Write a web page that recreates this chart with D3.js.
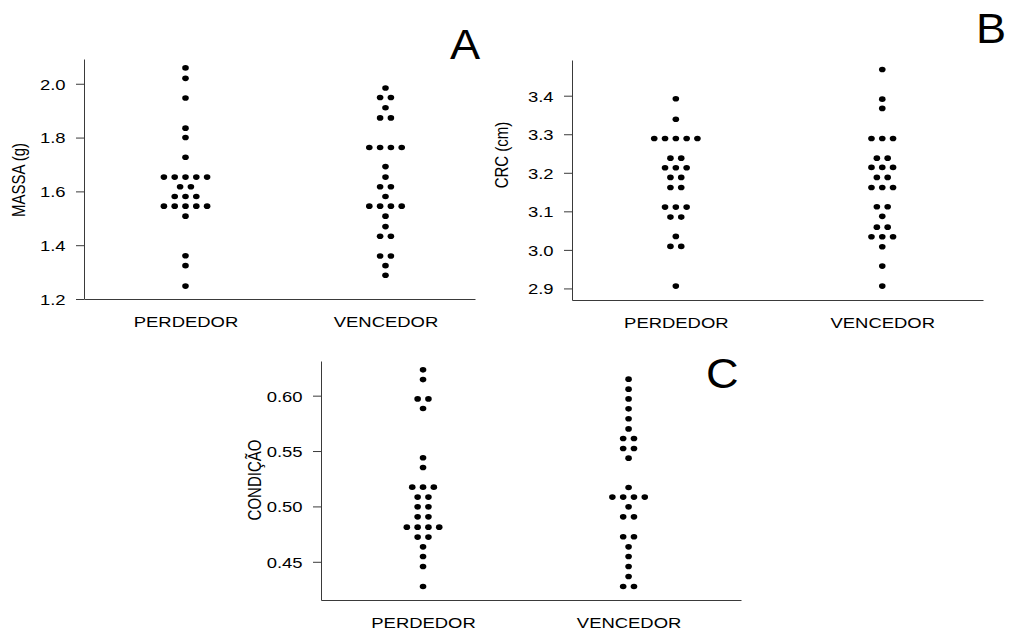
<!DOCTYPE html>
<html>
<head>
<meta charset="utf-8">
<script src="https://cdn.jsdelivr.net/npm/d3@7"></script>
<style>
  body { margin: 0; background: #fff; }
  svg { display: block; }
  text { font-family: "Liberation Sans", Arial, sans-serif; fill: #000; }
</style>
</head>
<body>
<script>
const groups = ["PERDEDOR", "VENCEDOR"];

// A - MASSA (g)
const massaPerdedor = [2.059, 2.020, 1.947, 1.835, 1.800, 1.727,
  1.653, 1.653, 1.653, 1.653, 1.653, 1.617, 1.617, 1.581, 1.581, 1.581,
  1.545, 1.545, 1.545, 1.545, 1.545, 1.508, 1.361, 1.324, 1.248];
const massaVencedor = [1.984, 1.949, 1.949, 1.911, 1.873, 1.873,
  1.763, 1.763, 1.763, 1.763, 1.692, 1.653, 1.617, 1.617, 1.581,
  1.545, 1.545, 1.545, 1.545, 1.508, 1.469, 1.433, 1.433, 1.360, 1.360, 1.324, 1.288];
const massaTicks = [1.2, 1.4, 1.6, 1.8, 2.0];

// B - CRC (cm)
const crcPerdedor = [3.392, 3.339, 3.289, 3.289, 3.289, 3.289, 3.289,
  3.238, 3.238, 3.213, 3.213, 3.213, 3.188, 3.188, 3.162, 3.162,
  3.111, 3.111, 3.111, 3.085, 3.085, 3.035, 3.009, 3.009, 2.906];
const crcVencedor = [3.468, 3.391, 3.367, 3.289, 3.289, 3.289,
  3.238, 3.238, 3.214, 3.214, 3.214, 3.188, 3.188, 3.162, 3.162, 3.162,
  3.112, 3.112, 3.087, 3.059, 3.059, 3.034, 3.034, 3.034, 3.008, 2.958, 2.906];
const crcTicks = [2.9, 3.0, 3.1, 3.2, 3.3, 3.4];

// C - CONDIÇÃO
const condPerdedor = [0.6233, 0.6145, 0.5971, 0.5971, 0.5884, 0.5439, 0.5351,
  0.5174, 0.5174, 0.5174, 0.5084, 0.5084, 0.4996, 0.4996, 0.4906, 0.4906,
  0.4813, 0.4813, 0.4813, 0.4813, 0.4723, 0.4723, 0.4635, 0.4548, 0.4458, 0.4277];
const condVencedor = [0.6149, 0.6059, 0.5971, 0.5881, 0.5791, 0.5700,
  0.5613, 0.5613, 0.5523, 0.5523, 0.5436, 0.5171,
  0.5084, 0.5084, 0.5084, 0.5084, 0.4996, 0.4906, 0.4906,
  0.4726, 0.4726, 0.4635, 0.4548, 0.4458, 0.4367, 0.4277, 0.4277];
const condTicks = [0.45, 0.50, 0.55, 0.60];

const width = 1009, height = 631;
const SX = 1.23;      // the original picture is stretched sideways
const dotStep = 10.8; // horizontal distance between stacked dots
const axisColor = "#3a3a3a";

const svg = d3.select("body").append("svg")
  .attr("width", width)
  .attr("height", height);

const panels = [
  {series: [massaPerdedor, massaVencedor], ticks: massaTicks, fmt: ".1f",
   yDomain: [1.2, 2.092], xDomain: [0.4925, 2.4475],
   left: 84, right: 475, top: 59, bottom: 299,
   title: "MASSA (g)", titleX: 19, titleY: 180,
   letter: "A", letterX: 450, letterY: 59},
  {series: [crcPerdedor, crcVencedor], ticks: crcTicks, fmt: ".1f",
   yDomain: [2.870, 3.4926], xDomain: [0.497, 2.488],
   left: 572, right: 983, top: 60, bottom: 300,
   title: "CRC (cm)", titleX: 502, titleY: 155,
   letter: "B", letterX: 976, letterY: 43},
  {series: [condPerdedor, condVencedor], ticks: condTicks, fmt: ".2f",
   yDomain: [0.4155, 0.6313], xDomain: [0.5036, 2.547],
   left: 321, right: 741, top: 361, bottom: 600,
   title: "CONDIÇÃO", titleX: 255, titleY: 480,
   letter: "C", letterX: 706, letterY: 388}
];

panels.forEach(drawPanel);

function drawPanel(p) {
  const y = d3.scaleLinear().domain(p.yDomain).range([p.bottom, p.top]);
  const x = d3.scaleLinear().domain(p.xDomain).range([p.left, p.right]);
  const g = svg.append("g");

  // y axis
  const ya = g.append("g")
    .attr("transform", `translate(${p.left},0)`)
    .call(d3.axisLeft(y).tickValues(p.ticks).tickFormat(d3.format(p.fmt))
      .tickSize(8).tickSizeOuter(0));
  ya.selectAll("path, line").attr("stroke", axisColor);
  ya.selectAll("text")
    .attr("x", -18.5 / SX)
    .attr("dy", "0.36em")
    .attr("transform", `scale(${SX},1)`)
    .style("font-size", "15px")
    .style("font-family", "Liberation Sans, Arial, sans-serif")
    .attr("fill", "#000");

  // x axis
  const xa = g.append("g")
    .attr("transform", `translate(0,${p.bottom})`)
    .call(d3.axisBottom(x).tickValues([1, 2]).tickFormat((d, i) => groups[i])
      .tickSize(0).tickSizeOuter(0).tickPadding(17));
  xa.select(".domain").attr("stroke", axisColor);
  xa.selectAll("text")
    .attr("transform", `scale(${SX},1)`)
    .style("font-size", "15px")
    .style("font-family", "Liberation Sans, Arial, sans-serif")
    .attr("fill", "#000");

  // stacked dots
  p.series.forEach((vals, gi) => {
    const rows = d3.groups(vals, v => v);
    const pts = [];
    rows.forEach(([v, arr]) => {
      arr.forEach((_, k) => pts.push({v, off: (k - (arr.length - 1) / 2) * dotStep}));
    });
    g.append("g").selectAll("ellipse")
      .data(pts)
      .join("ellipse")
      .attr("cx", d => x(gi + 1) + d.off)
      .attr("cy", d => y(d.v))
      .attr("rx", 3.3)
      .attr("ry", 2.8)
      .attr("fill", "#000");
  });

  // axis title
  g.append("text")
    .attr("transform", `translate(${p.titleX},${p.titleY}) scale(${SX},1) rotate(-90)`)
    .attr("text-anchor", "middle")
    .attr("dominant-baseline", "central")
    .style("font-size", "15px")
    .text(p.title);

  // panel letter
  g.append("text")
    .attr("transform", `translate(${p.letterX},${p.letterY}) scale(1.05,1)`)
    .style("font-family", "Liberation Sans, Arial, sans-serif")
    .style("font-size", "43px")
    .text(p.letter);
}
</script>
</body>
</html>
